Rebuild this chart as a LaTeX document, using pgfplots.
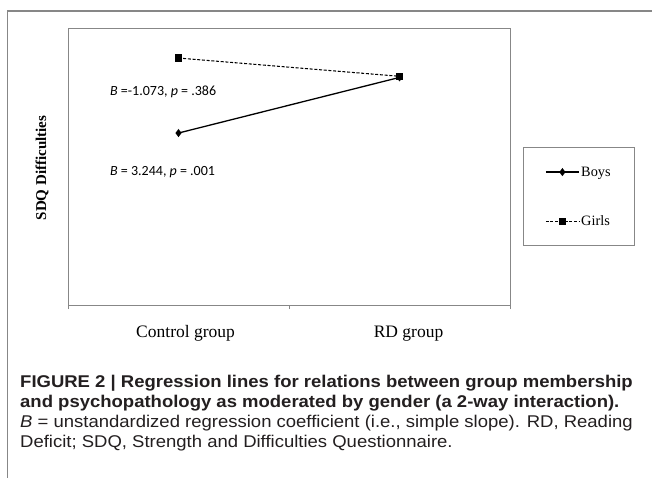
\documentclass[border=0pt]{standalone}
\usepackage{pgfplots}
\pgfplotsset{compat=1.18}
\usepackage{fontspec}
\setmainfont{Liberation Serif}
\newfontfamily\carlito{Carlito}
\newfontfamily\capfont[FakeStretch=1.088]{Liberation Sans}
\definecolor{axgray}{RGB}{135,135,135}
\definecolor{captxt}{RGB}{35,31,32}
\begin{document}
\begin{tikzpicture}
\useasboundingbox (0pt,0pt) rectangle (652pt,478pt);
\fill[white] (0pt,0pt) rectangle (652pt,478pt);
\draw[axgray, line width=1.4pt] (7.5pt,-2pt) -- (7.5pt,467pt) -- (655pt,467pt);
\begin{axis}[
  at={(68pt,172.3pt)}, anchor=south west,
  scale only axis, width=442pt, height=276.7pt,
  xmin=0, xmax=2, ymin=0, ymax=10,
  axis line style={axgray, line width=1pt},
  xtick={0.532,1.541},
  xticklabels={Control group, RD group},
  major tick length=0pt,
  minor xtick={0,1,2},
  minor tick length=3.5pt,
  tick align=outside,
  xtick pos=lower,
  tick style={axgray, line width=0.8pt},
  ytick=\empty,
  xticklabel style={font=\fontsize{17.5}{20}\selectfont, anchor=base, yshift=-32pt},
  ylabel={\textbf{SDQ Difficulties}},
  ylabel style={at={(axis description cs:-0.0588,0.498)}, anchor=center, font=\fontsize{15}{18}\selectfont},
  legend style={at={(axis description cs:1.0287,0.5728)}, anchor=north west,
    draw=axgray, line width=0.9pt, font=\fontsize{14.3}{16}\selectfont,
    inner xsep=22pt, inner ysep=17pt, row sep=34pt,
    nodes={inner xsep=1.5pt}},
  legend cell align=left,
  legend image code/.code={\draw[mark repeat=2,mark phase=2,#1] plot coordinates {(0pt,0pt) (16.6pt,0pt) (33.3pt,0pt)};},
  clip=false,
]
\addplot[black, line width=1.3pt, mark=diamond*, mark size=3pt, mark options={solid}] coordinates {(0.5,6.24) (1.5,8.25)};
\addlegendentry{Boys}
\addplot[black, line width=1.05pt, dash pattern=on 3pt off 1.7pt, mark=square*, mark size=3.2pt, mark options={solid}] coordinates {(0.5,8.95) (1.5,8.29)};
\addlegendentry{Girls}
\node[anchor=base west, inner sep=0pt, font=\carlito\fontsize{14}{16}\selectfont] at (axis cs:0.19,7.59) {\textit{B} =-1.073, \textit{p} = .386};
\node[anchor=base west, inner sep=0pt, font=\carlito\fontsize{14}{16}\selectfont] at (axis cs:0.19,4.72) {\textit{B} = 3.244, \textit{p} = .001};
\end{axis}
\begin{scope}[every node/.style={anchor=base west, inner sep=0pt, text=captxt}]
\node at (20pt,90pt) {\capfont\fontsize{17}{19}\selectfont\bfseries FIGURE 2 | Regression lines for relations between group membership};
\node at (20pt,70.3pt) {\capfont\fontsize{17}{19}\selectfont\bfseries and psychopathology as moderated by gender (a 2-way interaction).};
\node at (20pt,50.6pt) {\capfont\fontsize{17}{19}\selectfont\textit{B} = unstandardized regression coefficient (i.e., simple slope). RD, Reading};
\node at (20pt,30.9pt) {\capfont\fontsize{17}{19}\selectfont Deficit; SDQ, Strength and Difficulties Questionnaire.};
\end{scope}
\end{tikzpicture}
\end{document}
